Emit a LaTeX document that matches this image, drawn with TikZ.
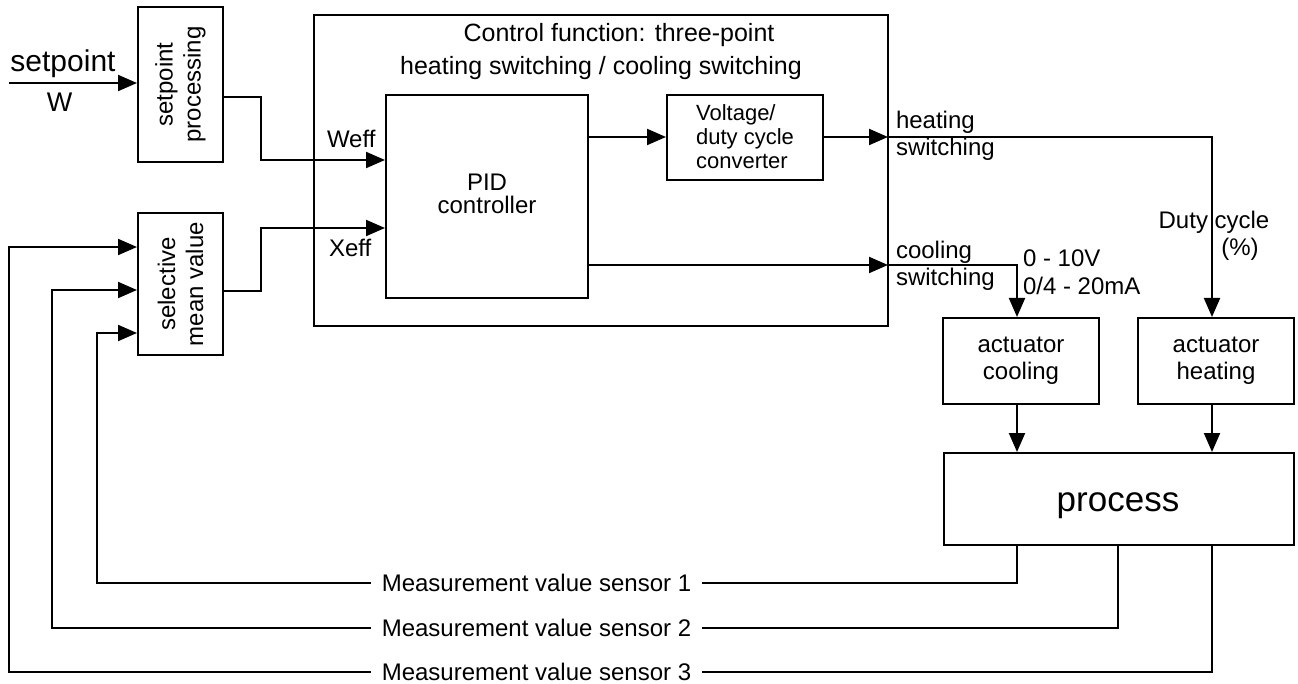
\documentclass[tikz,border=0pt]{standalone}
\usepackage{fontspec}
\setmainfont{Liberation Sans}
\usetikzlibrary{arrows.meta}
\begin{document}
\begin{tikzpicture}[x=1pt,y=-1pt,line width=2pt,
  arr/.style={-{Triangle[length=19pt,width=16pt]}},
  blk/.style={draw,line width=2pt,inner sep=0pt},
  txt/.style={font=\fontsize{24}{28}\selectfont,inner sep=0pt},
  small/.style={font=\fontsize{22}{24}\selectfont,inner sep=0pt},
  ttl/.style={font=\fontsize{25}{28}\selectfont,inner sep=0pt},
  lbl/.style={txt,inner xsep=10pt}]
\useasboundingbox[fill=white] (0,0) rectangle (1298,684);

% boxes
\node[blk,minimum width=85pt,minimum height=155pt] (sp) at (180.5,84.5) {};
\node[blk,minimum width=85pt,minimum height=142pt] (sel) at (180.5,284) {};
\node[blk,minimum width=574pt,minimum height=311pt] (ctl) at (601,170.5) {};
\node[blk,minimum width=202pt,minimum height=203pt] (pid) at (487,196.5) {};
\node[blk,minimum width=156pt,minimum height=85pt] (vc) at (745,137.5) {};
\node[blk,minimum width=156pt,minimum height=86pt] (ac) at (1021,361) {};
\node[blk,minimum width=156pt,minimum height=86pt] (ah) at (1216,361) {};
\node[blk,minimum width=350pt,minimum height=92pt] (pr) at (1119,499) {};

% texts in boxes
\node[txt,rotate=90,align=center] (spt) at (sp.center) {setpoint\\processing};
\node[txt,rotate=90,align=center] (selt) at (sel.center) {selective\\mean value};
\node[ttl] (t1) at (619,35) {Control function: three-point};
\node[ttl] (t2) at (601,68) {heating switching / cooling switching};
\node[txt,align=center,font=\fontsize{24}{23}\selectfont] (pidt) at (487,194) {PID\\controller};
\node[small,align=left] (vct) at (745,137) {Voltage/\\duty cycle\\converter};
\node[txt,align=center,font=\fontsize{24}{27}\selectfont] (act) at (1021,361) {actuator\\cooling};
\node[txt,align=center,font=\fontsize{24}{27}\selectfont] (aht) at (1216,361) {actuator\\heating};
\node[txt,font=\fontsize{35}{40}\selectfont] (prt) at (1118,506) {process};

% setpoint input
\coordinate (w0) at (9,83);
\draw[arr] (w0) -- (sp.west |- w0);
\node[txt,font=\fontsize{30}{34}\selectfont] (sptx) at (63,64) {setpoint};
\node[txt,font=\fontsize{27}{30}\selectfont] (wtx) at (59.5,102) {W};

% to PID
\coordinate (j1) at (261,97);
\coordinate (j2) at (261,160);
\draw[arr] (sp.east |- j1) -- (j1) -- (j2) -- (pid.west |- j2);
\coordinate (j3) at (261,291);
\coordinate (j4) at (261,228);
\draw[arr] (sel.east |- j3) -- (j3) -- (j4) -- (pid.west |- j4);
\node[txt,anchor=west] (weff) at (326,139) {Weff};
\node[txt,anchor=west] (xeff) at (328,248) {Xeff};

% PID to converter
\coordinate (k1) at (588,137);
\draw[arr] (pid.east |- k1) -- (vc.west |- k1);

% heating output
\coordinate (h1) at (888,137);
\coordinate (h2) at (1212,137);
\draw[arr] (vc.east |- h1) -- (h1);
\draw[arr] (h1) -- (h2) -- (h2 |- ah.north);
\node[txt,anchor=west] (hs1) at (895,122.5) {heating};
\node[txt,anchor=west] (hs2) at (895,149.5) {switching};
\node[txt] (dc1) at (1214,222) {Duty cycle};
\node[txt] (dc2) at (1240,249) {(\%)};

% cooling output
\coordinate (c1) at (888,265);
\coordinate (c2) at (1017,265);
\draw[arr] (pid.east |- c1) -- (c1);
\draw[arr] (c1) -- (c2) -- (c2 |- ac.north);
\node[txt,anchor=west] (cs1) at (895,252) {cooling};
\node[txt,anchor=west] (cs2) at (895,279) {switching};
\node[txt,anchor=west] (v1) at (1022,258) {0 - 10V};
\node[txt,anchor=west] (v2) at (1022,286) {0/4 - 20mA};

% actuators to process
\draw[arr] (ac.south -| c2) -- (pr.north -| c2);
\draw[arr] (ah.south -| h2) -- (pr.north -| h2);

% sensor feedback
\node[lbl] (s1) at (536.5,583) {Measurement value sensor 1};
\node[lbl] (s2) at (536.5,628) {Measurement value sensor 2};
\node[lbl] (s3) at (536.5,672) {Measurement value sensor 3};
\coordinate (p1) at (1017,583);
\coordinate (p2) at (1118,628);
\coordinate (p3) at (1212,672);
\draw (pr.south -| p1) -- (p1) -- (s1.east);
\draw (pr.south -| p2) -- (p2) -- (s2.east);
\draw (pr.south -| p3) -- (p3) -- (s3.east);
\coordinate (q1) at (97,583);
\coordinate (q2) at (52,628);
\coordinate (q3) at (9,672);
\coordinate (r1) at (97,333);
\coordinate (r2) at (52,290);
\coordinate (r3) at (9,247);
\draw[arr] (s1.west) -- (q1) -- (r1) -- (sel.west |- r1);
\draw[arr] (s2.west) -- (q2) -- (r2) -- (sel.west |- r2);
\draw[arr] (s3.west) -- (q3) -- (r3) -- (sel.west |- r3);
\end{tikzpicture}
\end{document}
